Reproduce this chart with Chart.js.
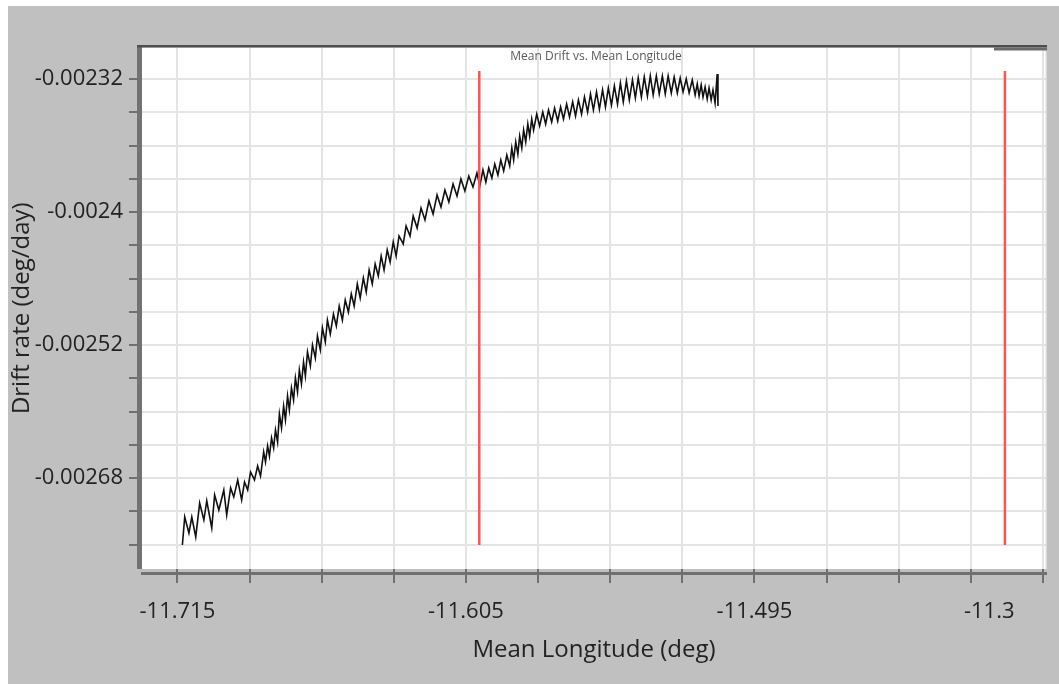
<html>
<head>
  <title>Mean Drift vs. Mean Longitude</title>
  <script src="https://cdn.jsdelivr.net/npm/chart.js"></script>
  <style>
    body {
      margin: 0;
      background-color: #c0c0c0;
    }
  </style>
</head>
<body>
  <canvas id="grafDrift" width="1059" height="684"></canvas>
  <script>
    // mean longitude (deg) of each sample
    var lonDeg = [
      -11.7131, -11.7122, -11.7106, -11.7095, -11.7080, -11.7065, -11.7049, -11.7038, -11.7019, -11.7008,
      -11.6992, -11.6973, -11.6962, -11.6947, -11.6935, -11.6920, -11.6905, -11.6894, -11.6882, -11.6871,
      -11.6856, -11.6844, -11.6833,
      -11.6821, -11.6814, -11.6806, -11.6799, -11.6791, -11.6783, -11.6776, -11.6768, -11.6761, -11.6753,
      -11.6745, -11.6738, -11.6730, -11.6723, -11.6715, -11.6707, -11.6700, -11.6692, -11.6685, -11.6677,
      -11.6669, -11.6662, -11.6654, -11.6643, -11.6635, -11.6624, -11.6616, -11.6605, -11.6597, -11.6586,
      -11.6578, -11.6567, -11.6555, -11.6544, -11.6533, -11.6521, -11.6510, -11.6498, -11.6487, -11.6476,
      -11.6464, -11.6453, -11.6441, -11.6430, -11.6419, -11.6407, -11.6396, -11.6384, -11.6373, -11.6362,
      -11.6350, -11.6339, -11.6327, -11.6316, -11.6305,
      -11.6289, -11.6278, -11.6263, -11.6251, -11.6236, -11.6221, -11.6206, -11.6191, -11.6175, -11.6160,
      -11.6145, -11.6130, -11.6115, -11.6099, -11.6084, -11.6069, -11.6054, -11.6039, -11.6023, -11.6008,
      -11.5997,
      -11.5985, -11.5974, -11.5963, -11.5951, -11.5940, -11.5928, -11.5917, -11.5906, -11.5894, -11.5883,
      -11.5875, -11.5868, -11.5860, -11.5852, -11.5845, -11.5837, -11.5830, -11.5822, -11.5814, -11.5807,
      -11.5799, -11.5792,
      -11.5780, -11.5769, -11.5757, -11.5746, -11.5735, -11.5723, -11.5712, -11.5700, -11.5689, -11.5678,
      -11.5666, -11.5655, -11.5643, -11.5632, -11.5621, -11.5609, -11.5598, -11.5586, -11.5575, -11.5564,
      -11.5552, -11.5541, -11.5529, -11.5518, -11.5507, -11.5495, -11.5484, -11.5472, -11.5461, -11.5450,
      -11.5438, -11.5427, -11.5415, -11.5404, -11.5393, -11.5381, -11.5370, -11.5358, -11.5347, -11.5336,
      -11.5324, -11.5313, -11.5301, -11.5290, -11.5279, -11.5267, -11.5256, -11.5244, -11.5233, -11.5222,
      -11.5210, -11.5199, -11.5187, -11.5176, -11.5168, -11.5161, -11.5153, -11.5146, -11.5138, -11.5130,
      -11.5123, -11.5115, -11.5108, -11.5100, -11.5092, -11.5089
    ];

    // mean drift rate (deg/day) of each sample
    var driftRate = [
      -0.0027403, -0.0027151, -0.0027295, -0.0027151, -0.0027331, -0.0027025, -0.0027178, -0.0027006, -0.0027250, -0.0026952,
      -0.0027088, -0.0026907, -0.0027133, -0.0026889, -0.0026970, -0.0026817, -0.0026997, -0.0026835, -0.0026907, -0.0026745,
      -0.0026817, -0.0026691, -0.0026781,
      -0.0026564, -0.0026655, -0.0026510, -0.0026601, -0.0026438, -0.0026528, -0.0026366, -0.0026474, -0.0026222, -0.0026348,
      -0.0026150, -0.0026276, -0.0026059, -0.0026186, -0.0025987, -0.0026095, -0.0025897, -0.0026023, -0.0025825, -0.0025951,
      -0.0025753, -0.0025879, -0.0025662, -0.0025789, -0.0025599, -0.0025717, -0.0025518, -0.0025644, -0.0025446, -0.0025572,
      -0.0025374, -0.0025500, -0.0025320, -0.0025428, -0.0025248, -0.0025374, -0.0025193, -0.0025302, -0.0025139, -0.0025248,
      -0.0025049, -0.0025175, -0.0024995, -0.0025121, -0.0024923, -0.0025049, -0.0024869, -0.0024977, -0.0024797, -0.0024923,
      -0.0024742, -0.0024851, -0.0024670, -0.0024797, -0.0024616,
      -0.0024688, -0.0024526, -0.0024616, -0.0024436, -0.0024544, -0.0024364, -0.0024472, -0.0024300, -0.0024418, -0.0024246,
      -0.0024355, -0.0024201, -0.0024309, -0.0024147, -0.0024255, -0.0024102, -0.0024210, -0.0024075, -0.0024174, -0.0024048,
      -0.0024165,
      -0.0024021, -0.0024129, -0.0024003, -0.0024093, -0.0023967, -0.0024066, -0.0023931, -0.0024030, -0.0023886, -0.0023985,
      -0.0023822, -0.0023931, -0.0023768, -0.0023877, -0.0023714, -0.0023822, -0.0023660, -0.0023768, -0.0023606, -0.0023714,
      -0.0023561, -0.0023660,
      -0.0023516, -0.0023624, -0.0023498, -0.0023606, -0.0023480, -0.0023588, -0.0023462, -0.0023579, -0.0023453, -0.0023561,
      -0.0023426, -0.0023543, -0.0023407, -0.0023534, -0.0023389, -0.0023516, -0.0023362, -0.0023498, -0.0023335, -0.0023480,
      -0.0023317, -0.0023471, -0.0023299, -0.0023453, -0.0023281, -0.0023435, -0.0023263, -0.0023426, -0.0023236, -0.0023407,
      -0.0023218, -0.0023389, -0.0023209, -0.0023371, -0.0023191, -0.0023362, -0.0023182, -0.0023353, -0.0023173, -0.0023344,
      -0.0023173, -0.0023335, -0.0023173, -0.0023335, -0.0023173, -0.0023326, -0.0023182, -0.0023326, -0.0023191, -0.0023317,
      -0.0023200, -0.0023326, -0.0023209, -0.0023344, -0.0023245, -0.0023353, -0.0023254, -0.0023362, -0.0023272, -0.0023380,
      -0.0023281, -0.0023389, -0.0023299, -0.0023417, -0.0023155, -0.0023444
    ];

    // red limit markers (longitude) and their vertical extent
    var limitLon = [-11.5999, -11.3995];
    var limitTop = -0.0023128;
    var limitBottom = -0.0027403;

    // x axis: grid positions and their labels (one label sits between grid lines)
    var lonTicks = [-11.715, -11.6875, -11.66, -11.6325, -11.605, -11.5775, -11.55, -11.5225, -11.495, -11.4675, -11.44, -11.4125, -11.4055, -11.385];
    var lonTickLabels = ['-11.715', '', '', '', '-11.605', '', '', '', '-11.495', '', '', '', '-11.3', ''];
    var lonLabelOnly = [-11.4055];
    var lonMin = -11.72887;
    var lonMax = -11.38345;

    // y axis: grid positions and labels
    var driftTicks = [-0.00232, -0.00235, -0.00238, -0.00241, -0.00244, -0.00247, -0.0025, -0.00253, -0.00256, -0.00259, -0.00262, -0.00265, -0.00268, -0.00271, -0.00274];
    var driftTickLabels = ['-0.00232', '', '', '', '-0.0024', '', '', '', '-0.00252', '', '', '', '-0.00268', '', ''];
    var driftMin = -0.002762;
    var driftMax = -0.0022916;

    var titolo = 'Mean Drift vs. Mean Longitude';

    //punti della curva
    var puntiCurva = lonDeg.map(function (x, i) {
      return { x: x, y: driftRate[i] };
    });

    //linee rosse verticali
    var lineeRosse = limitLon.map(function (x) {
      return {
        data: [{ x: x, y: limitTop }, { x: x, y: limitBottom }],
        showLine: true,
        borderColor: '#ff5252',
        borderWidth: 2.5,
        pointRadius: 0,
        order: 1
      };
    });

    //sfondo grigio, area bianca, bordi degli assi e titolo piccolo
    var cornice = {
      id: 'cornice',
      beforeDraw: function (chart) {
        var ctx = chart.ctx, a = chart.chartArea;
        ctx.save();
        ctx.fillStyle = '#ffffff';
        ctx.fillRect(0, 0, chart.width, chart.height);
        ctx.fillStyle = '#c0c0c0';
        ctx.fillRect(8, 6, chart.width - 8, chart.height - 6);
        ctx.fillStyle = '#ffffff';
        ctx.fillRect(a.left, a.top, a.right - a.left, a.bottom - a.top);
        ctx.restore();
      },
      afterDraw: function (chart) {
        var ctx = chart.ctx, a = chart.chartArea;
        ctx.save();
        ctx.fillStyle = '#dadada';
        ctx.fillRect(a.right - 1.5, a.top, 1.5, a.bottom - a.top);
        ctx.fillStyle = '#727272';
        ctx.fillRect(a.left - 4, a.top - 2, 5, a.bottom - a.top + 2);
        ctx.fillStyle = '#4e4e4e';
        ctx.fillRect(a.left - 4, a.top - 2.5, a.right - a.left + 4, 2.5);
        ctx.fillStyle = '#6a6a6a';
        ctx.fillRect(a.right - 53, a.top, 53, 3);
        ctx.fillStyle = '#707070';
        ctx.fillRect(a.left, a.bottom + 3, a.right - a.left, 3);
        ctx.font = '12px "Open Sans"';
        ctx.fillStyle = '#5a5a5a';
        ctx.textAlign = 'center';
        ctx.textBaseline = 'middle';
        ctx.fillText(titolo, (a.left + a.right) / 2 + 2, a.top + 9.5);
        ctx.restore();
      }
    };

    var fontTick = { family: 'Open Sans', size: 22 };
    var fontTitoli = { family: 'Open Sans', size: 24 };

    var grafico = new Chart(document.getElementById('grafDrift'), {
      type: 'scatter',
      data: {
        datasets: [{
          data: puntiCurva,
          showLine: true,
          borderColor: '#111111',
          borderWidth: 1.6,
          pointRadius: 0,
          tension: 0,
          order: 2
        }].concat(lineeRosse)
      },
      options: {
        responsive: false,
        animation: false,
        events: [],
        layout: { padding: { top: 47.5, right: 9, bottom: 0, left: 0 } },
        plugins: {
          legend: { display: false },
          tooltip: { enabled: false }
        },
        scales: {
          x: {
            type: 'linear',
            min: lonMin,
            max: lonMax,
            afterFit: function (s) { s.height = 115; },
            afterBuildTicks: function (s) {
              s.ticks = lonTicks.map(function (v) { return { value: v }; });
            },
            border: { display: false },
            grid: {
              color: function (c) {
                return c.tick && lonLabelOnly.indexOf(c.tick.value) >= 0 ? 'rgba(0,0,0,0)' : '#e4e4e4';
              },
              tickColor: function (c) {
                return c.tick && lonLabelOnly.indexOf(c.tick.value) >= 0 ? 'rgba(0,0,0,0)' : '#707070';
              },
              lineWidth: 2,
              tickWidth: 2,
              tickLength: 14
            },
            ticks: {
              autoSkip: false,
              maxRotation: 0,
              padding: 16,
              color: '#222222',
              font: fontTick,
              callback: function (v, i) { return lonTickLabels[i]; }
            },
            title: {
              display: true,
              text: 'Mean Longitude (deg)',
              color: '#222222',
              font: fontTitoli,
              padding: { top: 0, bottom: 19 }
            }
          },
          y: {
            type: 'linear',
            min: driftMin,
            max: driftMax,
            afterFit: function (s) { s.width = 141; },
            afterBuildTicks: function (s) {
              s.ticks = driftTicks.map(function (v) { return { value: v }; });
            },
            border: { display: false },
            grid: {
              color: '#e4e4e4',
              tickColor: '#707070',
              lineWidth: 2,
              tickWidth: 2,
              tickLength: 12
            },
            ticks: {
              autoSkip: false,
              padding: 6,
              color: '#222222',
              font: fontTick,
              callback: function (v, i) { return driftTickLabels[i]; }
            },
            title: {
              display: true,
              text: 'Drift rate (deg/day)',
              color: '#222222',
              font: fontTitoli,
              padding: { top: 8, bottom: 0 }
            }
          }
        }
      },
      plugins: [cornice]
    });
  </script>
</body>
</html>
